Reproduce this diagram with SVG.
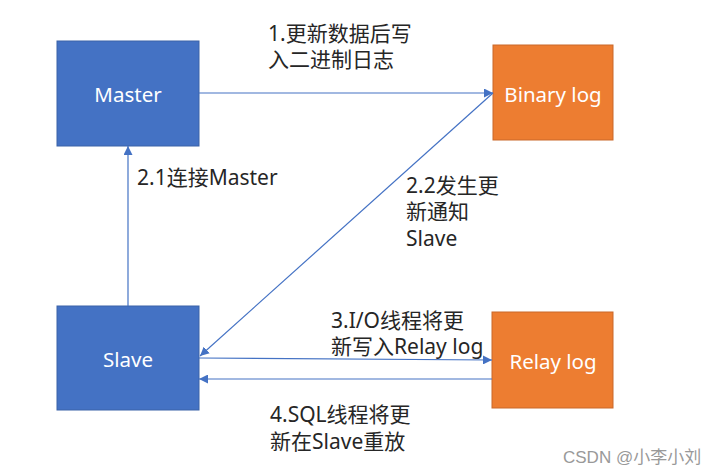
<svg xmlns="http://www.w3.org/2000/svg" width="715" height="475" viewBox="0 0 715 475">
<style>
.blue{fill:#4472C4;stroke:#3A62A8;stroke-width:1}
.orange{fill:#ED7D31;stroke:#C9692A;stroke-width:1}
.nt{font-family:"Noto Sans","Noto Sans CJK SC",sans-serif;font-size:20.5px;fill:#fff;text-anchor:middle;dominant-baseline:central}
.lb{font-family:"Noto Sans","Noto Sans CJK SC",sans-serif;font-size:21px;fill:#262626}
.ln{stroke:#4472C4;stroke-width:1.2;fill:none;marker-end:url(#ah)}
</style>
<defs>
<marker id="ah" viewBox="0 0 10 10" refX="10" refY="5" markerWidth="9" markerHeight="9" markerUnits="userSpaceOnUse" orient="auto">
<path d="M0,0 L10,5 L0,10 z" fill="#4472C4"/>
</marker>
</defs>
<rect width="715" height="475" fill="#fff"/>
<g id="master"><rect class="blue" x="57" y="41" width="142" height="105"/><text class="nt" x="128" y="94">Master</text></g>
<g id="binarylog"><rect class="orange" x="493" y="45" width="120" height="95"/><text class="nt" x="553" y="94">Binary log</text></g>
<g id="slave"><rect class="blue" x="57" y="306" width="142" height="104"/><text class="nt" x="128" y="359">Slave</text></g>
<g id="relaylog"><rect class="orange" x="492" y="312" width="121" height="96"/><text class="nt" x="553" y="361">Relay log</text></g>
<g id="connectors">
<line class="ln" x1="199" y1="93" x2="493" y2="93"/>
<line class="ln" x1="128" y1="306" x2="128" y2="146"/>
<line class="ln" x1="493" y1="93" x2="200" y2="356"/>
<line class="ln" x1="199" y1="358" x2="492" y2="360"/>
<line class="ln" x1="492" y1="379" x2="199" y2="379"/>
</g>
<g id="labels">
<text class="lb" x="268" y="41">1.更新数据后写</text>
<text class="lb" x="268" y="67">入二进制日志</text>
<text class="lb" x="137" y="185">2.1连接Master</text>
<text class="lb" x="406" y="193">2.2发生更</text>
<text class="lb" x="406" y="219">新通知</text>
<text class="lb" x="406" y="246">Slave</text>
<text class="lb" x="331" y="328">3.I/O线程将更</text>
<text class="lb" x="331" y="354">新写入Relay log</text>
<text class="lb" x="270" y="422">4.SQL线程将更</text>
<text class="lb" x="270" y="449">新在Slave重放</text>
<text x="563" y="463" font-family="'Liberation Sans','Noto Sans CJK SC',sans-serif" font-size="17" fill="#999">CSDN @小李小刘</text>
</g>
</svg>
